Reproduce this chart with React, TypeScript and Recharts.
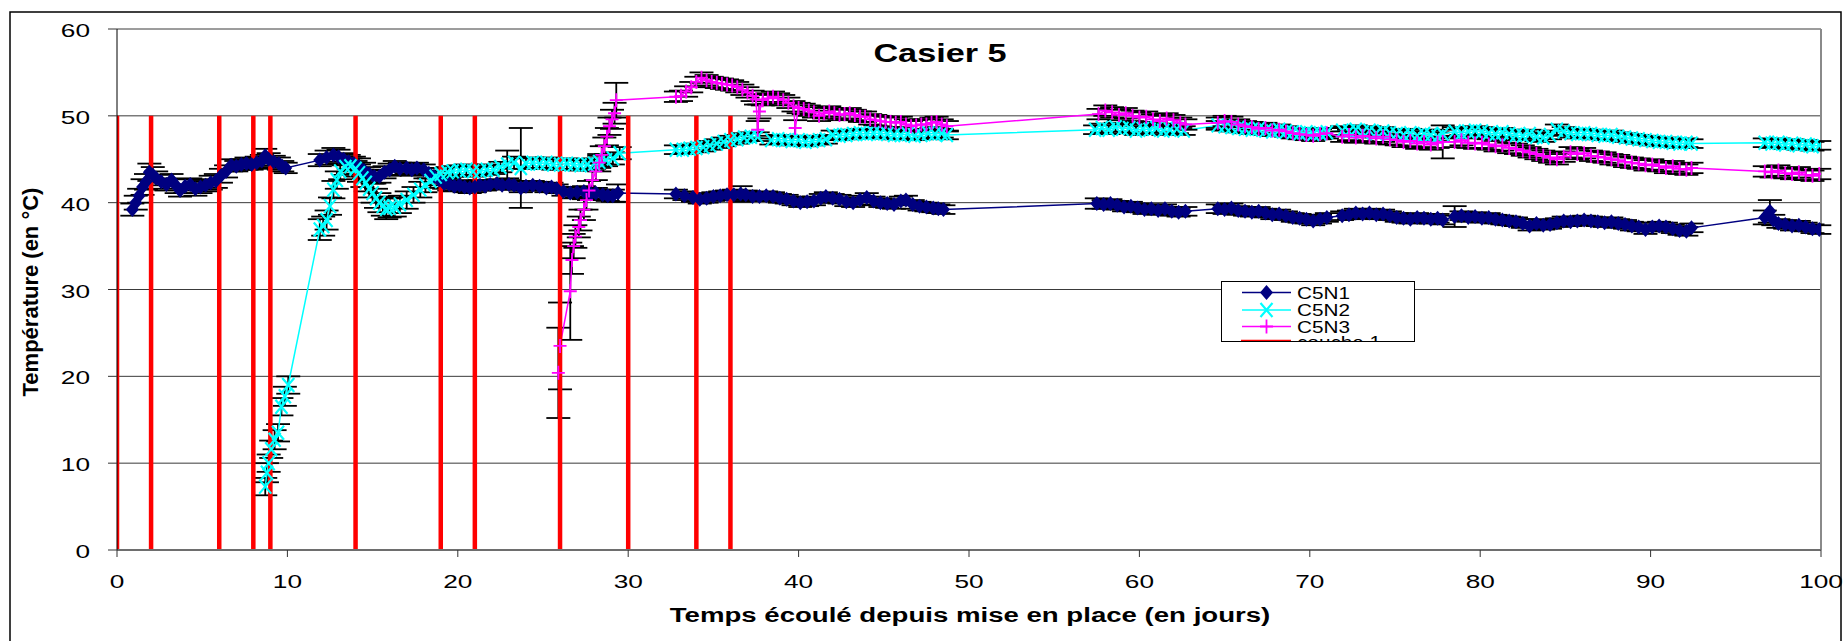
import React from "react";
import {
  LineChart,
  Line,
  XAxis,
  YAxis,
  CartesianGrid,
  ErrorBar,
  Legend,
  ReferenceLine,
} from "recharts";

const FONT = '"Liberation Sans", Arial, Helvetica, sans-serif';
// the source picture is stretched sideways, so text is too
const STRETCH = 1.38;

const NAVY = "#000080";
const CYAN = "#00FFFF";
const MAGENTA = "#FF00FF";
const RED = "#FF0000";

const xTicks = [0, 10, 20, 30, 40, 50, 60, 70, 80, 90, 100];
const yTicks = [0, 10, 20, 30, 40, 50, 60];

// days when a layer ("couche") was put in place
const coucheDays = [0, 2, 6, 8, 9, 14, 19, 21, 26, 30, 34, 36];
const coucheTop = 50;

// [day, temperature, error]
const c5n1: number[][] = [
  [0.9, 39.2, 0.7], [1.1, 40.0, 0.8], [1.3, 40.8, 0.8], [1.5, 41.8, 0.9], [1.7, 42.4, 0.9],
  [1.9, 43.5, 1.0], [2.1, 43.2, 0.9], [2.3, 42.8, 0.8], [2.6, 42.4, 0.8], [2.9, 42.1, 0.7],
  [3.2, 42.6, 0.7], [3.5, 41.9, 0.8], [3.7, 41.4, 0.7], [4.0, 41.9, 0.8], [4.3, 42.1, 0.7],
  [4.6, 41.6, 0.8], [4.9, 41.8, 0.7], [5.2, 42.0, 0.7], [5.5, 42.3, 0.8], [5.8, 42.5, 0.8],
  [6.1, 43.1, 0.8], [6.4, 43.6, 0.7], [6.7, 44.3, 0.7], [7.0, 44.2, 0.6], [7.3, 44.4, 0.6],
  [7.6, 44.5, 0.7], [7.9, 44.4, 0.6], [8.2, 44.6, 0.7], [8.5, 44.8, 0.7], [8.7, 45.4, 0.8],
  [8.9, 45.0, 0.7], [9.2, 44.7, 0.7], [9.5, 44.5, 0.7], [9.7, 44.2, 0.6], [9.9, 44.0, 0.6],
  [11.9, 44.9, 0.7], [12.3, 45.2, 0.8], [12.7, 45.5, 0.8], [13.0, 45.3, 0.8], [13.3, 45.0, 0.7],
  [13.6, 44.7, 0.8], [13.9, 44.5, 0.8], [14.2, 44.2, 0.9], [14.5, 43.7, 0.9], [14.8, 43.3, 0.8],
  [15.1, 43.0, 0.8], [15.4, 43.0, 0.7], [15.7, 43.5, 0.7], [16.0, 43.8, 0.7], [16.3, 44.2, 0.6],
  [16.6, 43.9, 0.7], [17.0, 44.0, 0.6], [17.3, 43.8, 0.7], [17.6, 44.0, 0.6], [18.0, 43.8, 0.6],
  [18.3, 43.4, 0.6], [18.6, 43.0, 0.6], [18.9, 42.6, 0.6], [19.2, 42.2, 0.6], [19.5, 42.1, 0.7],
  [19.8, 41.9, 0.6], [20.1, 42.0, 0.6], [20.4, 41.8, 0.6], [20.7, 41.7, 0.6], [21.0, 41.8, 0.6],
  [21.3, 42.0, 0.6], [21.6, 41.9, 0.5], [21.9, 42.1, 0.5], [22.3, 42.2, 0.5], [22.6, 42.0, 0.5],
  [23.0, 42.1, 0.5], [23.3, 42.0, 0.5], [23.7, 41.7, 0.5], [24.0, 41.9, 0.5], [24.4, 42.0, 0.5],
  [24.8, 41.9, 0.5], [25.2, 41.7, 0.5], [25.5, 41.8, 0.5], [25.8, 41.6, 0.5], [26.2, 41.3, 0.5],
  [26.6, 41.1, 0.6], [27.0, 41.2, 0.6], [27.4, 41.3, 0.6], [27.8, 41.0, 0.6], [28.1, 41.1, 0.6],
  [28.5, 40.9, 0.6], [28.8, 40.8, 0.6], [29.1, 40.8, 0.7], [29.4, 41.1, 1.0],
  [32.8, 41.0, 0.5], [33.3, 40.8, 0.5], [33.8, 40.6, 0.5], [34.2, 40.4, 0.5], [34.6, 40.5, 0.5],
  [35.0, 40.7, 0.5], [35.4, 40.8, 0.5], [35.8, 40.9, 0.5], [36.2, 40.9, 0.6], [36.6, 41.0, 0.9],
  [36.9, 40.9, 0.5], [37.3, 40.7, 0.5], [37.7, 40.7, 0.5], [38.1, 40.8, 0.5], [38.5, 40.7, 0.5],
  [38.9, 40.5, 0.5], [39.3, 40.4, 0.5], [39.7, 40.2, 0.5], [40.1, 40.0, 0.5], [40.5, 40.1, 0.5],
  [40.9, 40.2, 0.5], [41.3, 40.5, 0.5], [41.6, 40.7, 0.5], [42.0, 40.5, 0.5], [42.4, 40.4, 0.5],
  [42.8, 40.1, 0.5], [43.2, 40.0, 0.5], [43.6, 40.3, 0.5], [44.0, 40.6, 0.5], [44.4, 40.2, 0.5],
  [44.8, 40.0, 0.5], [45.2, 39.9, 0.5], [45.6, 39.8, 0.5], [46.0, 40.2, 0.5], [46.3, 40.3, 0.5],
  [46.7, 39.8, 0.5], [47.1, 39.6, 0.5], [47.5, 39.5, 0.5], [47.9, 39.4, 0.5], [48.2, 39.3, 0.5],
  [48.5, 39.2, 0.5],
  [57.5, 39.9, 0.6], [57.9, 39.8, 0.5], [58.3, 39.9, 0.5], [58.7, 39.7, 0.5], [59.1, 39.5, 0.5],
  [59.5, 39.6, 0.5], [59.9, 39.4, 0.5], [60.3, 39.2, 0.5], [60.7, 39.3, 0.5], [61.1, 39.1, 0.5],
  [61.5, 39.3, 0.5], [61.9, 39.0, 0.5], [62.3, 38.9, 0.5], [62.7, 39.0, 0.5],
  [64.6, 39.3, 0.5], [65.0, 39.2, 0.5], [65.4, 39.4, 0.5], [65.8, 39.1, 0.5], [66.2, 39.0, 0.5],
  [66.6, 38.9, 0.5], [67.0, 39.0, 0.5], [67.4, 38.8, 0.5], [67.8, 38.6, 0.5], [68.2, 38.7, 0.5],
  [68.6, 38.5, 0.5], [69.0, 38.3, 0.5], [69.4, 38.2, 0.5], [69.8, 38.1, 0.5], [70.2, 37.9, 0.5],
  [70.6, 38.1, 0.5], [71.0, 38.3, 0.5],
  [71.9, 38.5, 0.5], [72.3, 38.6, 0.5], [72.7, 38.8, 0.5], [73.1, 38.7, 0.5], [73.5, 38.8, 0.5],
  [73.9, 38.6, 0.5], [74.3, 38.7, 0.5], [74.7, 38.5, 0.5], [75.1, 38.3, 0.5], [75.5, 38.2, 0.5],
  [75.9, 38.1, 0.5], [76.3, 38.3, 0.5], [76.7, 38.2, 0.5], [77.1, 38.1, 0.5], [77.5, 38.2, 0.5],
  [77.8, 38.0, 0.5],
  [78.5, 38.4, 1.2], [78.9, 38.5, 0.5], [79.3, 38.3, 0.5], [79.7, 38.4, 0.5], [80.1, 38.2, 0.5],
  [80.5, 38.3, 0.5], [80.9, 38.1, 0.5], [81.3, 38.0, 0.5], [81.7, 37.9, 0.5], [82.1, 37.8, 0.5],
  [82.5, 37.6, 0.5], [82.9, 37.3, 0.5], [83.3, 37.6, 0.5], [83.7, 37.4, 0.5], [84.1, 37.5, 0.5],
  [84.5, 37.7, 0.5], [84.9, 37.9, 0.5], [85.3, 37.8, 0.5], [85.7, 37.9, 0.5], [86.1, 38.0, 0.5],
  [86.5, 37.9, 0.5], [86.9, 37.8, 0.5], [87.3, 37.7, 0.5], [87.7, 37.8, 0.5], [88.1, 37.6, 0.5],
  [88.5, 37.5, 0.5], [88.9, 37.3, 0.5], [89.3, 37.2, 0.5], [89.7, 36.9, 0.5], [90.1, 37.2, 0.5],
  [90.5, 37.3, 0.5], [90.9, 37.2, 0.5], [91.3, 37.0, 0.5], [91.7, 36.8, 0.5], [92.1, 36.7, 0.5],
  [92.4, 37.1, 0.5],
  [96.7, 38.3, 0.8], [97.0, 39.0, 1.3], [97.2, 38.0, 0.6], [97.5, 37.6, 0.5], [97.9, 37.5, 0.5],
  [98.3, 37.3, 0.5], [98.7, 37.4, 0.5], [99.1, 37.2, 0.5], [99.5, 37.0, 0.5], [99.9, 36.9, 0.5],
];

const c5n2: number[][] = [
  [8.7, 7.3, 1.0], [8.8, 8.9, 1.1], [8.9, 10.0, 1.0], [9.05, 11.6, 1.0], [9.25, 12.7, 1.1],
  [9.45, 13.5, 1.0], [9.65, 16.5, 1.0], [9.85, 17.7, 1.1], [10.05, 19.0, 1.0],
  [11.9, 36.9, 1.2], [12.1, 37.3, 1.1], [12.3, 38.0, 1.1], [12.5, 39.6, 1.0], [12.7, 41.5, 1.0],
  [12.9, 42.6, 1.0], [13.1, 43.6, 0.9], [13.4, 44.1, 0.9], [13.7, 44.2, 0.9], [14.0, 43.9, 0.9],
  [14.2, 43.4, 1.0], [14.4, 42.8, 1.0], [14.6, 42.3, 1.0], [14.8, 41.6, 1.0], [15.0, 41.1, 1.1],
  [15.2, 40.5, 1.1], [15.4, 40.0, 1.1], [15.6, 39.6, 1.1], [15.8, 39.3, 1.2], [16.0, 39.4, 1.1],
  [16.3, 39.5, 1.1], [16.6, 39.8, 1.0], [17.0, 40.3, 1.0], [17.4, 40.9, 0.9], [17.8, 41.5, 0.9],
  [18.1, 42.0, 0.8], [18.4, 42.5, 0.8], [18.7, 43.0, 0.7], [19.0, 43.3, 0.7], [19.4, 43.5, 0.6],
  [19.7, 43.6, 0.6], [20.1, 43.7, 0.6], [20.5, 43.8, 0.6], [20.9, 43.6, 0.6], [21.3, 43.6, 0.5],
  [21.7, 43.8, 0.6], [22.1, 43.8, 0.5], [22.5, 44.1, 0.6], [22.9, 44.4, 1.6], [23.3, 44.6, 0.7],
  [23.7, 44.0, 4.6], [24.0, 44.5, 0.6], [24.4, 44.6, 0.6], [24.8, 44.5, 0.6], [25.2, 44.6, 0.6],
  [25.6, 44.4, 0.6], [26.0, 44.4, 0.6], [26.4, 44.5, 0.6], [26.8, 44.4, 0.6], [27.2, 44.3, 0.6],
  [27.6, 44.4, 0.6], [28.0, 44.5, 0.6], [28.3, 44.7, 0.7], [28.7, 44.9, 0.7], [29.1, 45.1, 0.7],
  [29.5, 45.7, 0.7],
  [32.8, 46.1, 0.5], [33.2, 46.1, 0.5], [33.6, 46.2, 0.5], [34.0, 46.3, 0.5], [34.4, 46.4, 0.5],
  [34.8, 46.6, 0.5], [35.2, 46.8, 0.5], [35.6, 47.0, 0.5], [36.0, 47.2, 0.5], [36.4, 47.3, 0.5],
  [36.8, 47.5, 0.5], [37.2, 47.6, 0.5], [37.6, 47.6, 0.5], [38.4, 47.2, 0.5], [38.8, 47.3, 0.5],
  [39.2, 47.2, 0.5], [39.6, 47.1, 0.5], [40.0, 47.2, 0.5], [40.4, 47.0, 0.5], [40.8, 47.1, 0.5],
  [41.2, 47.2, 0.5], [41.6, 47.3, 0.5], [42.0, 47.8, 0.5], [42.4, 47.7, 0.5], [42.8, 47.8, 0.5],
  [43.2, 47.9, 0.5], [43.6, 48.0, 0.5], [44.0, 47.9, 0.5], [44.4, 48.0, 0.5], [44.8, 48.0, 0.5],
  [45.2, 47.9, 0.5], [45.6, 47.8, 0.5], [46.0, 47.8, 0.5], [46.4, 47.9, 0.5], [46.8, 47.7, 0.5],
  [47.2, 47.8, 0.5], [47.6, 48.0, 0.5], [48.0, 47.9, 0.5], [48.4, 48.0, 0.5], [48.7, 47.8, 0.5],
  [57.4, 48.4, 0.5], [57.8, 48.6, 0.5], [58.2, 48.4, 0.5], [58.6, 48.7, 0.5], [59.0, 48.5, 0.5],
  [59.4, 48.6, 0.5], [59.8, 48.3, 0.5], [60.2, 48.5, 0.5], [60.6, 48.4, 0.5], [61.0, 48.6, 0.5],
  [61.4, 48.3, 0.5], [61.8, 48.4, 0.5], [62.2, 48.5, 0.5], [62.6, 48.3, 0.5],
  [64.6, 48.9, 0.5], [65.0, 48.8, 0.5], [65.4, 48.7, 0.5], [65.8, 48.6, 0.5], [66.2, 48.5, 0.5],
  [66.6, 48.4, 0.5], [67.0, 48.5, 0.5], [67.4, 48.3, 0.5], [67.8, 48.2, 0.5], [68.2, 48.4, 0.5],
  [68.6, 48.2, 0.5], [69.0, 48.1, 0.5], [69.4, 48.0, 0.5], [69.8, 48.1, 0.5], [70.2, 47.9, 0.5],
  [70.6, 48.0, 0.5], [71.0, 48.1, 0.5],
  [71.9, 48.3, 0.5], [72.3, 48.2, 0.5], [72.7, 48.4, 0.5], [73.1, 48.1, 0.5], [73.5, 48.3, 0.5],
  [73.9, 48.0, 0.5], [74.3, 48.2, 0.5], [74.7, 48.0, 0.5], [75.1, 47.9, 0.5], [75.5, 47.8, 0.5],
  [75.9, 48.0, 0.5], [76.3, 47.7, 0.5], [76.7, 47.9, 0.5], [77.1, 47.8, 0.5], [77.5, 47.6, 0.5],
  [77.8, 47.9, 0.5],
  [78.5, 48.2, 0.5], [78.9, 48.0, 0.5], [79.3, 48.2, 0.5], [79.7, 48.3, 0.5], [80.1, 48.2, 0.5],
  [80.5, 48.0, 0.5], [80.9, 47.9, 0.5], [81.3, 48.1, 0.5], [81.7, 47.9, 0.5], [82.1, 47.8, 0.5],
  [82.5, 47.7, 0.5], [82.9, 47.9, 0.5], [83.3, 47.6, 0.5], [83.7, 47.5, 0.5], [84.1, 47.8, 0.5],
  [84.5, 48.4, 0.6], [84.9, 48.2, 0.5], [85.3, 48.0, 0.5], [85.7, 47.9, 0.5], [86.1, 48.0, 0.5],
  [86.5, 47.9, 0.5], [86.9, 47.8, 0.5], [87.3, 47.7, 0.5], [87.7, 47.8, 0.5], [88.1, 47.6, 0.5],
  [88.5, 47.5, 0.5], [88.9, 47.4, 0.5], [89.3, 47.3, 0.5], [89.7, 47.2, 0.5], [90.1, 47.1, 0.5],
  [90.5, 47.0, 0.5], [90.9, 47.0, 0.5], [91.3, 46.9, 0.5], [91.7, 46.8, 0.5], [92.1, 46.9, 0.5],
  [92.4, 46.8, 0.5],
  [96.7, 46.9, 0.5], [97.1, 46.8, 0.5], [97.5, 46.9, 0.5], [97.9, 46.7, 0.5], [98.3, 46.8, 0.5],
  [98.7, 46.6, 0.5], [99.1, 46.7, 0.5], [99.5, 46.5, 0.5], [99.9, 46.6, 0.5],
];

const c5n3: number[][] = [
  [25.9, 20.4, 5.2], [26.0, 23.5, 5.0], [26.6, 29.8, 5.6], [26.7, 33.4, 1.6], [26.8, 35.0, 1.4],
  [26.9, 36.1, 1.3], [27.1, 37.2, 1.2], [27.2, 38.0, 1.2], [27.4, 39.2, 1.2], [27.55, 40.3, 1.1],
  [27.7, 41.4, 1.1], [27.9, 42.6, 1.1], [28.1, 43.6, 1.0], [28.3, 44.6, 1.0], [28.45, 45.5, 1.0],
  [28.6, 46.5, 1.0], [28.75, 47.6, 1.0], [28.9, 48.8, 1.0], [29.05, 49.6, 1.1], [29.2, 50.3, 1.2],
  [29.3, 51.8, 2.0],
  [32.8, 52.2, 0.6], [33.1, 52.3, 0.6], [33.4, 52.8, 0.6], [33.7, 53.3, 0.6], [34.0, 53.9, 0.6],
  [34.3, 54.4, 0.6], [34.6, 54.1, 0.6], [34.9, 53.9, 0.6], [35.2, 53.8, 0.6], [35.5, 53.7, 0.6],
  [35.8, 53.6, 0.6], [36.1, 53.5, 0.6], [36.4, 53.3, 0.6], [36.7, 53.0, 0.6], [37.0, 52.7, 0.6],
  [37.3, 52.3, 0.6], [37.5, 51.9, 0.6], [37.6, 48.4, 1.0], [37.7, 50.5, 0.8], [37.9, 51.8, 0.6],
  [38.2, 52.0, 0.6], [38.5, 52.2, 0.6], [38.8, 52.0, 0.6], [39.1, 51.8, 0.6], [39.4, 51.5, 0.6],
  [39.7, 51.1, 0.6], [39.8, 48.6, 0.9], [40.0, 50.9, 0.6], [40.3, 50.8, 0.6], [40.6, 50.6, 0.6],
  [40.9, 50.4, 0.6], [41.2, 50.0, 0.6], [41.5, 50.3, 0.6], [41.8, 50.5, 0.6], [42.1, 50.3, 0.6],
  [42.4, 50.1, 0.6], [42.7, 50.2, 0.6], [43.0, 50.3, 0.6], [43.3, 50.1, 0.6], [43.6, 49.9, 0.6],
  [43.9, 49.9, 0.6], [44.2, 49.6, 0.6], [44.5, 49.5, 0.6], [44.8, 49.4, 0.6], [45.1, 49.3, 0.6],
  [45.4, 49.3, 0.6], [45.7, 49.2, 0.6], [46.0, 49.3, 0.6], [46.3, 49.0, 0.6], [46.6, 48.8, 0.6],
  [46.9, 48.9, 0.6], [47.2, 49.0, 0.6], [47.5, 49.0, 0.6], [47.8, 49.2, 0.6], [48.1, 49.3, 0.6],
  [48.4, 49.0, 0.6], [48.7, 48.8, 0.6],
  [57.6, 50.2, 0.6], [58.0, 50.6, 0.6], [58.4, 50.4, 0.6], [58.8, 50.1, 0.6], [59.2, 50.3, 0.6],
  [59.6, 50.0, 0.6], [60.0, 49.8, 0.6], [60.4, 49.9, 0.6], [60.8, 49.6, 0.6], [61.2, 49.4, 0.6],
  [61.6, 49.7, 0.6], [62.0, 49.5, 0.6], [62.4, 49.2, 0.6], [62.7, 49.0, 0.6],
  [64.6, 49.2, 0.6], [65.0, 49.4, 0.6], [65.4, 49.3, 0.6], [65.8, 49.0, 0.6], [66.2, 48.8, 0.6],
  [66.6, 48.7, 0.6], [67.0, 48.5, 0.6], [67.4, 48.6, 0.6], [67.8, 48.3, 0.6], [68.2, 48.4, 0.6],
  [68.6, 48.2, 0.6], [69.0, 48.0, 0.6], [69.4, 47.9, 0.6], [69.8, 47.8, 0.6], [70.2, 47.7, 0.6],
  [70.6, 47.9, 0.6], [71.0, 48.0, 0.6],
  [71.9, 47.6, 0.6], [72.3, 47.8, 0.6], [72.7, 47.5, 0.6], [73.1, 47.7, 0.6], [73.5, 47.6, 0.6],
  [73.9, 47.4, 0.6], [74.3, 47.6, 0.6], [74.7, 47.3, 0.6], [75.1, 47.2, 0.6], [75.5, 47.0, 0.6],
  [75.9, 47.1, 0.6], [76.3, 46.8, 0.6], [76.7, 47.0, 0.6], [77.1, 46.7, 0.6], [77.5, 46.9, 0.6],
  [77.8, 47.0, 1.9],
  [78.5, 47.0, 0.6], [78.9, 47.2, 0.6], [79.3, 46.9, 0.6], [79.7, 46.8, 0.6], [80.1, 46.9, 0.6],
  [80.5, 46.7, 0.6], [80.9, 46.5, 0.6], [81.3, 46.6, 0.6], [81.7, 46.3, 0.6], [82.1, 46.2, 0.6],
  [82.5, 46.0, 0.6], [82.9, 45.8, 0.6], [83.3, 45.6, 0.6], [83.7, 45.4, 0.6], [84.1, 45.2, 0.6],
  [84.5, 45.0, 0.6], [84.9, 45.3, 0.6], [85.3, 45.8, 0.6], [85.7, 45.6, 0.6], [86.1, 45.7, 0.6],
  [86.5, 45.4, 0.6], [86.9, 45.3, 0.6], [87.3, 45.2, 0.6], [87.7, 45.0, 0.6], [88.1, 44.9, 0.6],
  [88.5, 44.7, 0.6], [88.9, 44.6, 0.6], [89.3, 44.5, 0.6], [89.7, 44.3, 0.6], [90.1, 44.4, 0.6],
  [90.5, 44.2, 0.6], [90.9, 44.0, 0.6], [91.3, 44.2, 0.6], [91.7, 43.9, 0.6], [92.1, 43.8, 0.6],
  [92.4, 44.0, 0.6],
  [96.7, 43.6, 0.6], [97.1, 43.5, 0.6], [97.5, 43.7, 0.6], [97.9, 43.4, 0.6], [98.3, 43.3, 0.6],
  [98.7, 43.5, 0.6], [99.1, 43.2, 0.6], [99.5, 43.1, 0.6], [99.9, 43.3, 0.6],
];

const toRows = (pts: number[][]) => pts.map(([x, y, e]) => ({ x, y, e }));
const n1Data = toRows(c5n1);
const n2Data = toRows(c5n2);
const n3Data = toRows(c5n3);
// one vertical segment per layer day, broken apart by a null point
const coucheData = coucheDays.flatMap((d) => [
  { x: d, y: 0 },
  { x: d, y: coucheTop },
  { x: d, y: null },
]);

function diamondPath(cx: number, cy: number) {
  return `M${cx} ${cy - 7.5}L${cx + 6.5} ${cy}L${cx} ${cy + 7.5}L${cx - 6.5} ${cy}Z`;
}

function Marker({ kind, cx, cy }: { kind: string; cx: number; cy: number }) {
  if (kind === "diamond") return <path d={diamondPath(cx, cy)} fill={NAVY} />;
  if (kind === "cross")
    return (
      <path
        d={`M${cx - 6} ${cy - 7}L${cx + 6} ${cy + 7}M${cx - 6} ${cy + 7}L${cx + 6} ${cy - 7}`}
        stroke={CYAN}
        strokeWidth={2.2}
      />
    );
  return (
    <path
      d={`M${cx - 6.5} ${cy}L${cx + 6.5} ${cy}M${cx} ${cy - 7}L${cx} ${cy + 7}`}
      stroke={MAGENTA}
      strokeWidth={1.8}
    />
  );
}

const makeDot = (kind: string) => (p: any) => {
  if (p.cx == null || p.cy == null) return <g key={`${kind}-${p.index}`} />;
  return (
    <g key={`${kind}-${p.index}`}>
      <Marker kind={kind} cx={p.cx} cy={p.cy} />
    </g>
  );
};

function StretchText({ x, y, sx, children, ...rest }: any) {
  return (
    <g transform={`translate(${x},${y}) scale(${sx},1)`}>
      <text x={0} y={0} fontFamily={FONT} fill="#000" {...rest}>
        {children}
      </text>
    </g>
  );
}

const XTick = (p: any) => (
  <StretchText x={p.x} y={p.y + 23} sx={STRETCH} fontSize={19} textAnchor="middle">
    {p.payload.value}
  </StretchText>
);

const YTick = (p: any) => (
  <StretchText x={p.x} y={p.y + 8} sx={STRETCH} fontSize={19} textAnchor="end">
    {p.payload.value}
  </StretchText>
);

const legendMarks: Record<string, string> = {
  C5N1: "diamond",
  C5N2: "cross",
  C5N3: "plus",
};
const legendRows = [11.5, 29, 45.5, 61];

function LegendBox({ payload }: any) {
  const items = payload || [];
  return (
    <div
      style={{
        position: "relative",
        width: 194,
        height: 61,
        boxSizing: "border-box",
        border: "1.5px solid #000",
        background: "#fff",
        overflow: "hidden",
      }}
    >
      <svg width={194} height={70} style={{ position: "absolute", left: -1.5, top: -1.5 }}>
        {items.map((entry: any, i: number) => {
          const cy = legendRows[i];
          const isRed = entry.value === "couche 1";
          return (
            <g key={entry.value}>
              <line
                x1={isRed ? 20 : 21}
                x2={70}
                y1={cy}
                y2={cy}
                stroke={entry.color}
                strokeWidth={isRed ? 4.5 : 1.5}
              />
              {legendMarks[entry.value] && (
                <Marker kind={legendMarks[entry.value]} cx={45.5} cy={cy} />
              )}
              <StretchText x={76} y={cy + 6} sx={1.22} fontSize={17}>
                {entry.value}
              </StretchText>
            </g>
          );
        })}
      </svg>
    </div>
  );
}

export default function App() {
  return (
    <div style={{ position: "relative", width: 1847, height: 641, background: "#fff", overflow: "hidden" }}>
      <style>{"body{margin:0;}"}</style>
      <LineChart
        width={1847}
        height={641}
        margin={{ top: 29, right: 26, bottom: 50, left: 17 }}
      >
        <CartesianGrid vertical={false} stroke="#3a3a3a" strokeWidth={1} />
        <XAxis
          type="number"
          dataKey="x"
          domain={[0, 100]}
          ticks={xTicks}
          allowDataOverflow
          height={41}
          tickSize={7}
          tickMargin={8}
          axisLine={{ stroke: "#6e6e6e", strokeWidth: 2 }}
          tickLine={{ stroke: "#333" }}
          tick={XTick}
        />
        <YAxis
          type="number"
          domain={[0, 60]}
          ticks={yTicks}
          allowDataOverflow
          width={100}
          tickSize={9}
          tickMargin={18}
          axisLine={{ stroke: "#000" }}
          tickLine={{ stroke: "#333" }}
          tick={YTick}
        />
        <ReferenceLine x={100} stroke="#8a8a8a" strokeWidth={2} />
        <Line
          data={n1Data}
          dataKey="y"
          name="C5N1"
          stroke={NAVY}
          strokeWidth={1.5}
          dot={makeDot("diamond")}
          activeDot={false}
          isAnimationActive={false}
        >
          <ErrorBar dataKey="e" direction="y" width={12} stroke="#000" strokeWidth={1.8} isAnimationActive={false} />
        </Line>
        <Line
          data={n2Data}
          dataKey="y"
          name="C5N2"
          stroke={CYAN}
          strokeWidth={1.5}
          dot={makeDot("cross")}
          activeDot={false}
          isAnimationActive={false}
        >
          <ErrorBar dataKey="e" direction="y" width={12} stroke="#000" strokeWidth={1.8} isAnimationActive={false} />
        </Line>
        <Line
          data={n3Data}
          dataKey="y"
          name="C5N3"
          stroke={MAGENTA}
          strokeWidth={1.5}
          dot={makeDot("plus")}
          activeDot={false}
          isAnimationActive={false}
        >
          <ErrorBar dataKey="e" direction="y" width={12} stroke="#000" strokeWidth={1.8} isAnimationActive={false} />
        </Line>
        <Line
          data={coucheData}
          dataKey="y"
          name="couche 1"
          stroke={RED}
          strokeWidth={4.5}
          dot={false}
          activeDot={false}
          connectNulls={false}
          isAnimationActive={false}
        />
        <Legend
          layout="vertical"
          align="center"
          verticalAlign="middle"
          wrapperStyle={{ left: 1221, top: 281, width: 194, height: 61 }}
          content={(props: any) => <LegendBox {...props} />}
        />
      </LineChart>
      <svg
        width={1847}
        height={641}
        style={{ position: "absolute", left: 0, top: 0, pointerEvents: "none" }}
      >
        <rect x={10} y={12} width={1831} height={640} fill="none" stroke="#000" strokeWidth={1.5} />
        <StretchText x={940} y={61.5} sx={1.37} fontSize={25} fontWeight="bold" textAnchor="middle">
          Casier 5
        </StretchText>
        <StretchText x={970} y={622} sx={STRETCH} fontSize={20} fontWeight="bold" textAnchor="middle">
          Temps écoulé depuis mise en place (en jours)
        </StretchText>
        <text
          x={0}
          y={0}
          transform="translate(37.5,292) rotate(-90)"
          fontFamily={FONT}
          fontSize={22}
          fontWeight="bold"
          textAnchor="middle"
        >
          Température (en °C)
        </text>
      </svg>
    </div>
  );
}
